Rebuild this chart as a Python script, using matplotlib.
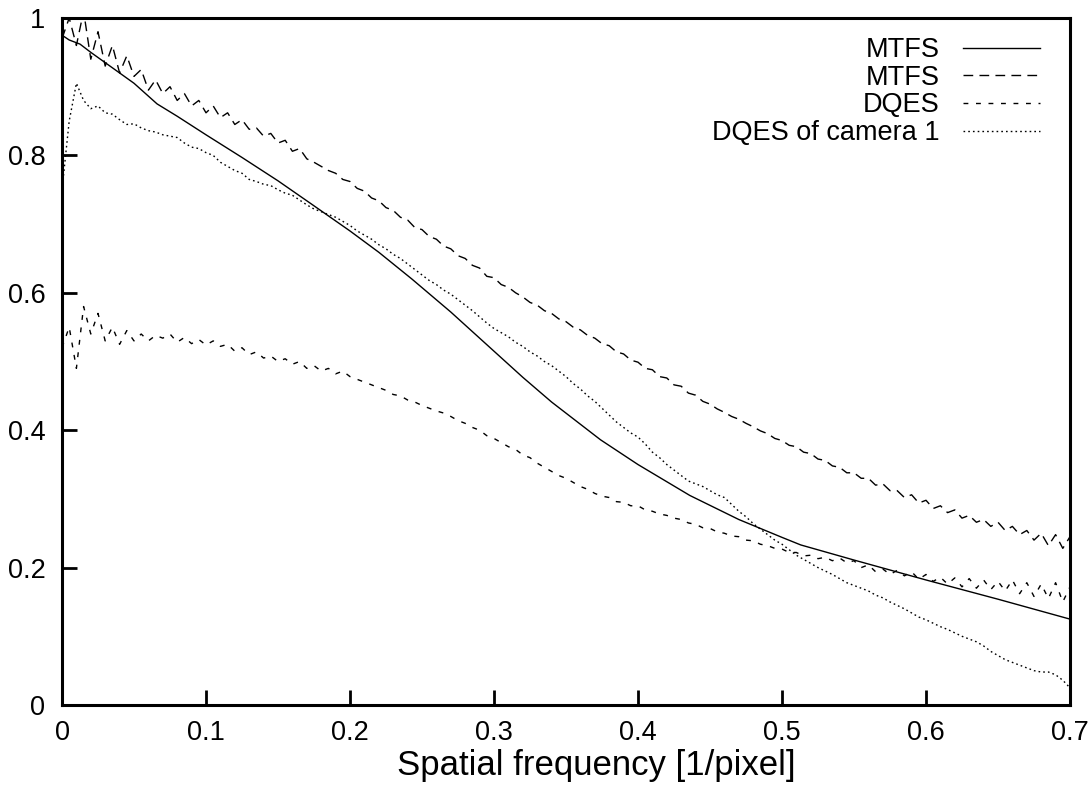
#!/usr/bin/env python3
'''
plot.py
  MTF / DQE curves against spatial frequency, redrawn with matplotlib
  to look like the original gnuplot output.
'''

import matplotlib
matplotlib.use('Agg')
from matplotlib import pyplot as plt

#
#   Data
#

# sampling grid of the measured curves, step 0.005 from 0 to 0.7
FREQ = [round(i * 0.005, 3) for i in range(141)]

# smooth MTF curve, sampled more sparsely
MTFS_SMOOTH_X = [0.0, 0.005, 0.0125, 0.02, 0.03, 0.04, 0.05, 0.066, 0.08,
                 0.1, 0.125, 0.15, 0.172, 0.2, 0.22, 0.243, 0.27, 0.3,
                 0.32, 0.34, 0.374, 0.4, 0.436, 0.47, 0.5, 0.513, 0.55,
                 0.6, 0.65, 0.7]
MTFS_SMOOTH = [0.975, 0.968, 0.962, 0.95, 0.935, 0.92, 0.905, 0.875, 0.857,
               0.83, 0.797, 0.763, 0.731, 0.69, 0.659, 0.62, 0.572, 0.515,
               0.477, 0.441, 0.386, 0.35, 0.305, 0.27, 0.244, 0.233, 0.211,
               0.182, 0.154, 0.125]

MTFS_MEASURED = [
    0.97, 1.00, 0.96, 1.01, 0.94, 0.98, 0.93, 0.96, 0.92, 0.945,
    0.915, 0.925, 0.895, 0.91, 0.89, 0.90, 0.88, 0.89, 0.872, 0.88,
    0.862, 0.872, 0.855, 0.862, 0.845, 0.852, 0.838, 0.84, 0.828, 0.832,
    0.818, 0.822, 0.806, 0.81, 0.795, 0.79, 0.784, 0.778, 0.774, 0.765,
    0.762, 0.752, 0.748, 0.738, 0.734, 0.724, 0.72, 0.71, 0.706, 0.695,
    0.692, 0.682, 0.678, 0.668, 0.664, 0.654, 0.65, 0.64, 0.636, 0.624,
    0.622, 0.612, 0.608, 0.60, 0.594, 0.586, 0.582, 0.574, 0.57, 0.562,
    0.558, 0.55, 0.546, 0.538, 0.534, 0.526, 0.523, 0.514, 0.511, 0.502,
    0.499, 0.49, 0.488, 0.478, 0.476, 0.466, 0.464, 0.454, 0.451, 0.442,
    0.438, 0.431, 0.426, 0.42, 0.416, 0.41, 0.405, 0.399, 0.395, 0.388,
    0.385, 0.378, 0.376, 0.368, 0.366, 0.358, 0.356, 0.348, 0.346, 0.338,
    0.338, 0.33, 0.33, 0.32, 0.322, 0.312, 0.312, 0.302, 0.306, 0.294,
    0.298, 0.286, 0.29, 0.28, 0.284, 0.272, 0.276, 0.266, 0.27, 0.26,
    0.266, 0.254, 0.26, 0.248, 0.254, 0.24, 0.25, 0.232, 0.248, 0.228,
    0.245]

DQES = [
    0.52, 0.55, 0.49, 0.58, 0.54, 0.57, 0.53, 0.55, 0.525, 0.545,
    0.53, 0.54, 0.53, 0.538, 0.534, 0.54, 0.528, 0.535, 0.526, 0.532,
    0.524, 0.53, 0.522, 0.525, 0.515, 0.52, 0.51, 0.514, 0.505, 0.508,
    0.50, 0.504, 0.496, 0.50, 0.49, 0.494, 0.486, 0.49, 0.482, 0.486,
    0.478, 0.474, 0.47, 0.466, 0.462, 0.458, 0.452, 0.45, 0.444, 0.441,
    0.436, 0.432, 0.428, 0.425, 0.42, 0.414, 0.41, 0.404, 0.40, 0.392,
    0.388, 0.382, 0.376, 0.372, 0.364, 0.36, 0.352, 0.346, 0.34, 0.334,
    0.33, 0.324, 0.318, 0.314, 0.308, 0.304, 0.302, 0.296, 0.295, 0.29,
    0.29, 0.284, 0.282, 0.278, 0.276, 0.272, 0.27, 0.265, 0.263, 0.258,
    0.257, 0.252, 0.25, 0.246, 0.245, 0.24, 0.239, 0.234, 0.232, 0.228,
    0.227, 0.222, 0.222, 0.217, 0.218, 0.213, 0.215, 0.21, 0.214, 0.207,
    0.21, 0.20, 0.204, 0.194, 0.198, 0.19, 0.196, 0.188, 0.194, 0.183,
    0.19, 0.18, 0.186, 0.176, 0.185, 0.172, 0.184, 0.17, 0.182, 0.168,
    0.18, 0.166, 0.182, 0.162, 0.178, 0.158, 0.176, 0.155, 0.178, 0.15,
    0.172]

DQES_CAMERA1 = [
    0.75, 0.85, 0.905, 0.88, 0.868, 0.872, 0.862, 0.86, 0.852, 0.845,
    0.846, 0.84, 0.836, 0.834, 0.83, 0.828, 0.826, 0.818, 0.812, 0.81,
    0.804, 0.80, 0.79, 0.784, 0.778, 0.774, 0.765, 0.762, 0.758, 0.756,
    0.75, 0.745, 0.742, 0.735, 0.728, 0.722, 0.718, 0.714, 0.71, 0.704,
    0.698, 0.69, 0.684, 0.678, 0.67, 0.664, 0.656, 0.65, 0.642, 0.634,
    0.626, 0.618, 0.612, 0.604, 0.598, 0.59, 0.582, 0.574, 0.565, 0.556,
    0.548, 0.542, 0.536, 0.528, 0.522, 0.514, 0.508, 0.50, 0.494, 0.486,
    0.478, 0.468, 0.46, 0.45, 0.442, 0.432, 0.422, 0.412, 0.404, 0.396,
    0.39, 0.38, 0.368, 0.36, 0.35, 0.342, 0.334, 0.326, 0.322, 0.318,
    0.312, 0.306, 0.302, 0.292, 0.282, 0.274, 0.264, 0.256, 0.248, 0.24,
    0.234, 0.226, 0.218, 0.212, 0.206, 0.20, 0.195, 0.19, 0.184, 0.178,
    0.174, 0.17, 0.166, 0.16, 0.156, 0.15, 0.145, 0.14, 0.134, 0.128,
    0.124, 0.119, 0.114, 0.11, 0.105, 0.10, 0.096, 0.092, 0.086, 0.078,
    0.072, 0.066, 0.062, 0.058, 0.054, 0.05, 0.048, 0.048, 0.044, 0.036,
    0.025]

X_TICKS = [0, 0.1, 0.2, 0.3, 0.4, 0.5, 0.6, 0.7]
X_TICK_LABELS = ['0', '0.1', '0.2', '0.3', '0.4', '0.5', '0.6', '0.7']
Y_TICKS = [0, 0.2, 0.4, 0.6, 0.8, 1.0]
Y_TICK_LABELS = ['0', '0.2', '0.4', '0.6', '0.8', '1']


#
#   Plot
#

plt.rcParams['font.family'] = ['Liberation Sans', 'DejaVu Sans']
plt.rcParams['font.size'] = 19.5

fig = plt.figure(figsize=(10.9, 7.98), dpi=100)
ax = fig.add_axes([62 / 1090, 93 / 798, 1008 / 1090, 687 / 798])

lw = 1.0
ax.plot(MTFS_SMOOTH_X, MTFS_SMOOTH, color='black', lw=lw,
        linestyle='-', label='MTFS')
ax.plot(FREQ, MTFS_MEASURED, color='black', lw=lw,
        linestyle=(0, (7, 4.5)), label='MTFS')
ax.plot(FREQ, DQES, color='black', lw=lw,
        linestyle=(0, (3.5, 5.5)), label='DQES')
ax.plot(FREQ, DQES_CAMERA1, color='black', lw=lw,
        linestyle=(0, (1.2, 2.2)), label='DQES of camera 1')

ax.set_xlim(0, 0.7)
ax.set_ylim(0, 1)
ax.set_xticks(X_TICKS)
ax.set_xticklabels(X_TICK_LABELS)
ax.set_yticks(Y_TICKS)
ax.set_yticklabels(Y_TICK_LABELS)
ax.tick_params(direction='in', length=11, width=2,
               top=False, right=False)
ax.tick_params(axis='x', pad=11)
ax.tick_params(axis='y', pad=12)

for spine in ax.spines.values():
    spine.set_linewidth(2.2)

# x axis title, a little larger than the tick labels as in the original
fig.text(596 / 1090, 1 - 766 / 798, 'Spatial frequency [1/pixel]',
         ha='center', va='center', fontsize=25)

ax.legend(loc='upper right', bbox_to_anchor=(0.970, 0.972),
          frameon=False, markerfirst=False, handlelength=2.85,
          labelspacing=0.06, handletextpad=0.85, borderpad=0.0,
          borderaxespad=0.0)

fig.savefig('out.png', dpi=100)
plt.close(fig)
